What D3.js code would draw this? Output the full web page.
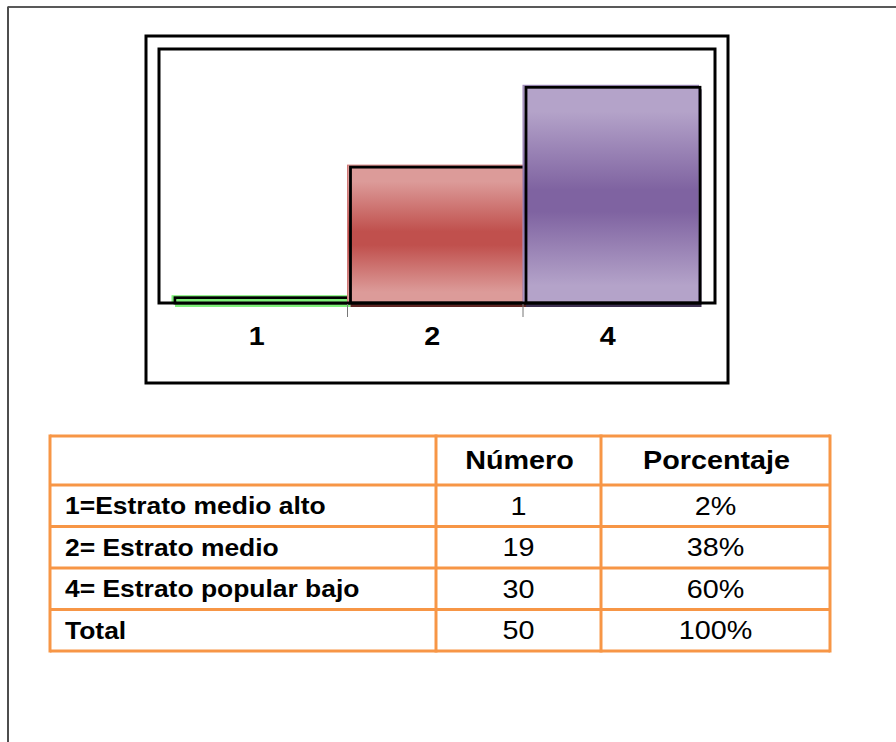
<!DOCTYPE html>
<html>
<head>
<meta charset="utf-8">
<script src="https://cdn.jsdelivr.net/npm/d3@7"></script>
<style>
  html, body { margin: 0; padding: 0; background: #fff; }
  svg { display: block; }
  text { font-family: "Liberation Sans", Arial, sans-serif; }
</style>
</head>
<body>
<svg id="chart" width="896" height="742"></svg>
<script>
// ---- data ----
const categories = ["1", "2", "4"];
const values = [1, 19, 30];
const yTicks = [0, 35];
const tableHeaders = ["", "Número", "Porcentaje"];
const tableLabels = ["1=Estrato medio alto", "2= Estrato medio", "4= Estrato popular bajo", "Total"];
const tableNumbers = ["1", "19", "30", "50"];
const tablePercents = ["2%", "38%", "60%", "100%"];

// ---- styles ----
const barColors = [
  { light: "#80f07a", dark: "#80f07a", shadow: "#80f07a", edge: "#80f07a" },
  { light: "#dc9b99", dark: "#c0504d", shadow: "#5e2523", edge: "#d07a78" },
  { light: "#b4a3c9", dark: "#7f63a1", shadow: "#3d3050", edge: "#9a84b8" }
];
const orange = "#f79646";
const SX = 1.15; // horizontal stretch of the reference picture

const svg = d3.select("#chart");
const defs = svg.append("defs");

// page border
svg.append("line").attr("x1", 8).attr("y1", 7).attr("x2", 896).attr("y2", 7)
  .attr("stroke", "#222").attr("stroke-width", 1.5);
svg.append("line").attr("x1", 8).attr("y1", 6.5).attr("x2", 8).attr("y2", 742)
  .attr("stroke", "#4d4d4d").attr("stroke-width", 2);

// chart frame
svg.append("rect").attr("x", 146).attr("y", 36).attr("width", 582).attr("height", 347)
  .attr("fill", "none").attr("stroke", "#000").attr("stroke-width", 3);

const plot = { left: 159, top: 49, right: 715, bottom: 303 };
const x = d3.scaleBand().domain(categories).range([172, 698.5]).padding(0);
const y = d3.scaleLinear().domain([yTicks[0], yTicks[1]]).range([plot.bottom, plot.top]);

// gradients
barColors.forEach((c, i) => {
  const g = defs.append("linearGradient").attr("id", "grad" + i)
    .attr("x1", 0).attr("y1", 0).attr("x2", 0).attr("y2", 1);
  g.append("stop").attr("offset", "0%").attr("stop-color", c.light);
  g.append("stop").attr("offset", "12%").attr("stop-color", c.light);
  g.append("stop").attr("offset", "48%").attr("stop-color", c.dark);
  g.append("stop").attr("offset", "58%").attr("stop-color", c.dark);
  g.append("stop").attr("offset", "92%").attr("stop-color", c.light);
  g.append("stop").attr("offset", "100%").attr("stop-color", c.light);
});

const bars = svg.append("g").selectAll("g").data(values).join("g");
// shadow
bars.append("rect")
  .attr("x", (d, i) => x(categories[i]) + 3)
  .attr("y", d => y(d) + 4)
  .attr("width", x.bandwidth())
  .attr("height", d => plot.bottom - y(d))
  .attr("fill", (d, i) => barColors[i].shadow);
// fill
bars.append("rect")
  .attr("x", (d, i) => x(categories[i]))
  .attr("y", d => y(d))
  .attr("width", x.bandwidth())
  .attr("height", d => plot.bottom - y(d))
  .attr("fill", (d, i) => "url(#grad" + i + ")")
  .attr("stroke", (d, i) => barColors[i].edge)
  .attr("stroke-width", 1);
// black outline
bars.append("rect")
  .attr("x", (d, i) => x(categories[i]) + 3)
  .attr("y", d => y(d) + 2)
  .attr("width", x.bandwidth() - 1.5)
  .attr("height", d => plot.bottom - y(d) - 2)
  .attr("fill", "none")
  .attr("stroke", "#000")
  .attr("stroke-width", 2.8);
// re-paint fill of tiny bars inside outline so the colour shows
bars.filter(d => plot.bottom - y(d) < 10).append("rect")
  .attr("x", (d, i) => x(categories[i]) + 4.5)
  .attr("y", d => y(d) + 3.4)
  .attr("width", x.bandwidth() - 4.5)
  .attr("height", 3)
  .attr("fill", (d, i) => barColors[i].light);

// plot frame
svg.append("rect").attr("x", plot.left).attr("y", plot.top)
  .attr("width", plot.right - plot.left).attr("height", plot.bottom - plot.top)
  .attr("fill", "none").attr("stroke", "#000").attr("stroke-width", 3);

// ticks between categories
categories.slice(1).forEach(c => {
  svg.append("line").attr("x1", x(c)).attr("x2", x(c))
    .attr("y1", plot.bottom + 1).attr("y2", plot.bottom + 14)
    .attr("stroke", "#777").attr("stroke-width", 1);
});

// category labels
categories.forEach(c => {
  svg.append("g")
    .attr("transform", `translate(${x(c) + x.bandwidth() / 2 - 3},345) scale(${SX},1)`)
    .append("text").attr("text-anchor", "middle")
    .attr("font-size", 25).attr("font-weight", "bold").attr("fill", "#000")
    .text(c);
});

// ---- table ----
const colEdges = [50, 436, 601, 830];
const headerTop = 436, headerBottom = 485, tableBottom = 651;
const rowScale = d3.scaleBand().domain(d3.range(tableLabels.length))
  .range([headerBottom, tableBottom]);

const tg = svg.append("g");
const rowEdges = [headerTop].concat(d3.range(tableLabels.length).map(i => rowScale(i) + rowScale.bandwidth()));
rowEdges.forEach(yy => {
  tg.append("line").attr("x1", colEdges[0]).attr("x2", colEdges[3])
    .attr("y1", yy).attr("y2", yy).attr("stroke", orange).attr("stroke-width", 3);
});
tg.append("line").attr("x1", colEdges[0]).attr("x2", colEdges[3])
  .attr("y1", headerBottom).attr("y2", headerBottom).attr("stroke", orange).attr("stroke-width", 3);
colEdges.forEach(xx => {
  tg.append("line").attr("x1", xx).attr("x2", xx)
    .attr("y1", headerTop - 1.5).attr("y2", tableBottom + 1.5)
    .attr("stroke", orange).attr("stroke-width", 3);
});

function cellText(txt, cx, cy, anchor, bold, size) {
  tg.append("g").attr("transform", `translate(${cx},${cy}) scale(${SX},1)`)
    .append("text").attr("text-anchor", anchor).attr("dy", "0.36em")
    .attr("font-size", size).attr("font-weight", bold ? "bold" : "normal")
    .attr("fill", "#000").text(txt);
}
const colCenter = i => (colEdges[i] + colEdges[i + 1]) / 2;
const headerMid = (headerTop + headerBottom) / 2;
tableHeaders.forEach((h, i) => { if (h) cellText(h, colCenter(i) + 1, headerMid - 0.5, "middle", true, 25); });
tableLabels.forEach((lab, r) => {
  const cy = rowScale(r) + rowScale.bandwidth() / 2;
  cellText(lab, colEdges[0] + 15, cy, "start", true, 23);
  cellText(tableNumbers[r], colCenter(1), cy, "middle", false, 25);
  cellText(tablePercents[r], colCenter(2), cy, "middle", false, 25);
});
</script>
</body>
</html>
